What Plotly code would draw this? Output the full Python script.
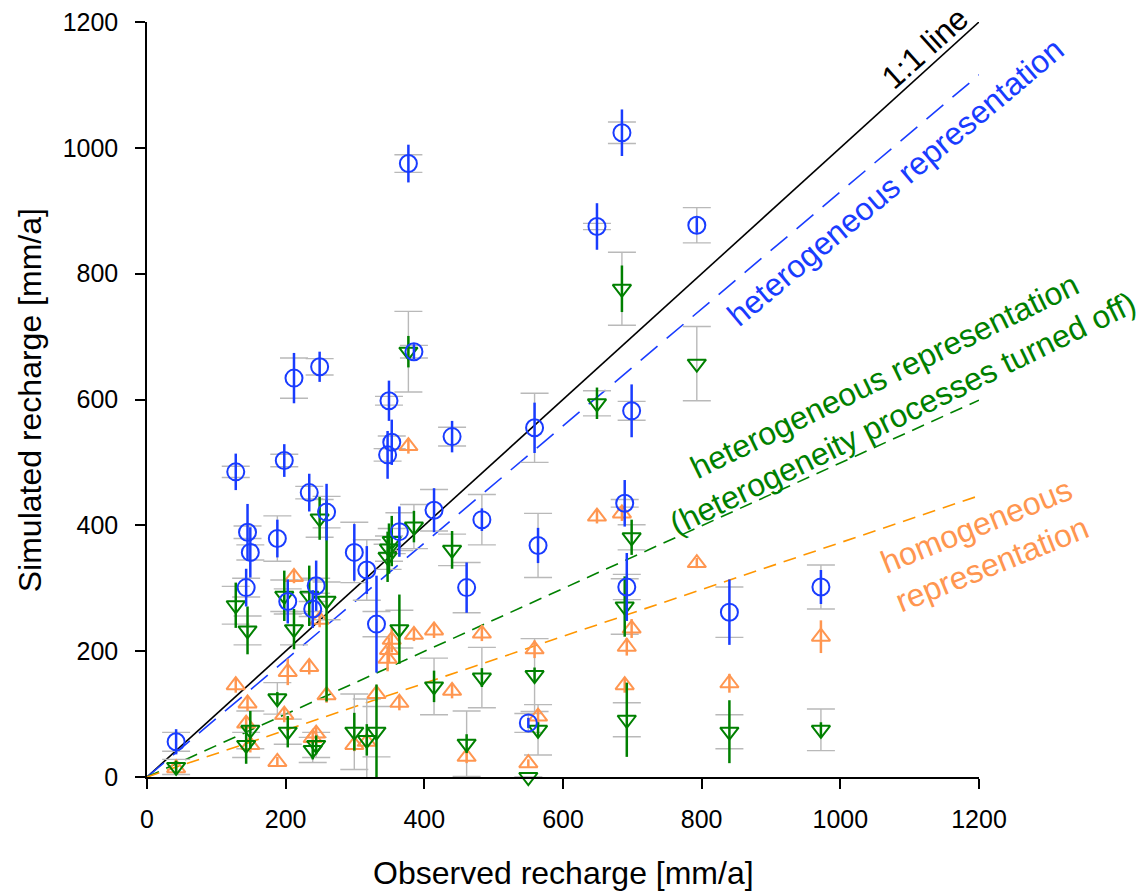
import plotly.graph_objects as go

# Observed recharge per site [mm/a]
observed = [42, 128, 143, 145, 149, 188, 198, 203, 212, 234, 239, 244, 249, 259,
            299, 317, 331, 347, 349, 353, 364, 377, 385, 414, 440, 461, 483, 550,
            559, 564, 649, 685, 689, 692, 699, 793, 840, 972]

# Simulated recharge: heterogeneous representation (blue circles)
sim_het = [56, 485, 301, 389, 357, 379, 503, 279, 634, 452, 267, 304, 652, 421,
           357, 329, 243, 512, 598, 532, 390, 975, 676, 424, 541, 301, 409, 86,
           555, 368, 875, 1024, 435, 302, 582, 877, 262, 302]
err_het = [20, 29, 30, 45, 40, 30, 26, 35, 40, 30, 30, 40, 24, 45,
           45, 38, 77, 38, 32, 36, 40, 30, 12, 35, 25, 40, 18, 8,
           40, 28, 37, 37, 37, 54, 42, 12, 52, 27]
grey_het = [15, 9, 15, 10, 12, 36, 10, 20, 32, 10, 12, 12, 13, 25,
            48, 48, 20, 10, 7, 10, 30, 14, 10, 33, 15, 40, 40, 15,
            55, 51, 5, 17, 6, 20, 15, 28, 40, 35]

# Simulated recharge: heterogeneity processes turned off (green triangles)
sim_off = [16, 273, 51, 233, 75, 125, 288, 72, 235, 288, 43, 51, 411, 280,
           72, 59, 72, 350, 363, 375, 235, 676, 398, 144, 361, 53, 158, 0,
           162, 75, 594, 776, 271, 91, 381, 657, 72, 75]
err_off = [10, 36, 30, 38, 30, 10, 40, 25, 32, 48, 15, 15, 34, 160,
           30, 25, 75, 40, 40, 40, 55, 25, 25, 25, 30, 15, 15, 0,
           12, 12, 25, 37, 48, 59, 28, 0, 50, 12]
grey_off = [12, 30, 20, 23, 30, 25, 25, 20, 25, 25, 20, 20, 30, 30,
            60, 65, 40, 20, 20, 20, 30, 64, 35, 45, 25, 52, 48, 0,
            58, 40, 20, 58, 44, 27, 20, 59, 27, 33]

# Simulated recharge: homogeneous representation (orange triangles)
sim_hom = [14, 146, 85, 117, 51, 24, 99, 167, 318, 175, 62, 69, 250, 130,
           51, 56, 132, 188, 202, 218, 118, 526, 226, 233, 137, 32, 228, 22,
           203, 96, 414, 419, 146, 207, 236, 340, 149, 223]
err_hom = [8, 12, 12, 12, 12, 8, 12, 21, 10, 12, 10, 10, 12, 12,
           10, 10, 12, 20, 20, 20, 12, 12, 10, 12, 12, 10, 12, 6,
           14, 12, 11, 12, 12, 14, 15, 8, 15, 26]

# Regression lines (slopes through origin)
line_x = [0, 1200]
fit_het = [0, 1116]
fit_off = [0, 599]
fit_hom = [0, 447]
one_to_one = [0, 1200]

BLUE = "rgb(25,60,255)"
GREEN = "rgb(0,128,0)"
ORANGE = "rgb(255,150,80)"
ORANGE_LINE = "rgb(255,150,0)"
GREY = "rgb(185,185,185)"

fig = go.Figure()

# Lines
fig.add_trace(go.Scatter(x=line_x, y=one_to_one, mode="lines",
                         line=dict(color="black", width=1.6), showlegend=False))
fig.add_trace(go.Scatter(x=line_x, y=fit_het, mode="lines",
                         line=dict(color=BLUE, width=1.6, dash="22px,12px"), showlegend=False))
fig.add_trace(go.Scatter(x=line_x, y=fit_off, mode="lines",
                         line=dict(color=GREEN, width=1.6, dash="13px,8px"), showlegend=False))
fig.add_trace(go.Scatter(x=line_x, y=fit_hom, mode="lines",
                         line=dict(color=ORANGE_LINE, width=1.6, dash="13px,8px"), showlegend=False))

# Grey uncertainty bars (with caps)
for yv, ge in [(sim_off, grey_off), (sim_het, grey_het)]:
    fig.add_trace(go.Scatter(
        x=observed, y=yv, mode="markers",
        marker=dict(size=1, color="rgba(0,0,0,0)"),
        error_y=dict(type="data", array=ge, visible=True, color=GREY,
                     thickness=1.4, width=14),
        showlegend=False, hoverinfo="skip", cliponaxis=False))

# Coloured series with their own bars
series = [
    (sim_hom, err_hom, ORANGE, "triangle-up-open", 16),
    (sim_off, err_off, GREEN, "triangle-down-open", 16),
    (sim_het, err_het, BLUE, "circle-open", 17),
]
for yv, ev, col, sym, sz in series:
    fig.add_trace(go.Scatter(
        x=observed, y=yv, mode="markers",
        marker=dict(symbol=sym, size=sz, color=col, line=dict(color=col, width=2)),
        error_y=dict(type="data", array=ev, visible=True, color=col,
                     thickness=2.5, width=0),
        showlegend=False, cliponaxis=False))

font_family = "Arial, Liberation Sans, sans-serif"
ANN = 32

def note(x, y, text, angle, color):
    fig.add_annotation(x=x, y=y, xref="paper", yref="paper", text=text,
                       textangle=angle, showarrow=False,
                       xanchor="center", yanchor="middle",
                       font=dict(size=ANN, color=color, family=font_family))

note(0.935, 0.966, "1:1 line", -42, "black")
note(0.900, 0.788, "heterogeneous representation", -40, BLUE)
note(0.897, 0.506, "heterogeneous representation<br>(heterogeneity processes turned off)", -26, GREEN)
note(1.007, 0.307, "homogeneous<br>representation", -22, ORANGE)

# Axis titles
note(0.5, -0.127, "Observed recharge [mm/a]", 0, "black")
note(-0.1406, 0.499, "Simulated recharge [mm/a]", -90, "black")

tick_vals = [0, 200, 400, 600, 800, 1000, 1200]
axis_common = dict(range=[0, 1200], tickvals=tick_vals,
                   showgrid=False, zeroline=False, showline=True, linecolor="black",
                   linewidth=1.5, ticks="outside", ticklen=10, tickwidth=1.5,
                   automargin=False, ticklabeloverflow="allow",
                   tickcolor="black", tickfont=dict(size=25, color="black", family=font_family))

fig.update_layout(
    width=1144, height=895,
    margin=dict(l=139, r=173, t=14, b=126, autoexpand=False),
    plot_bgcolor="white", paper_bgcolor="white",
    xaxis=dict(axis_common, ticklabelstandoff=9),
    yaxis=dict(axis_common, ticklabelstandoff=12),
    showlegend=False,
)

fig.write_html("out.html")
